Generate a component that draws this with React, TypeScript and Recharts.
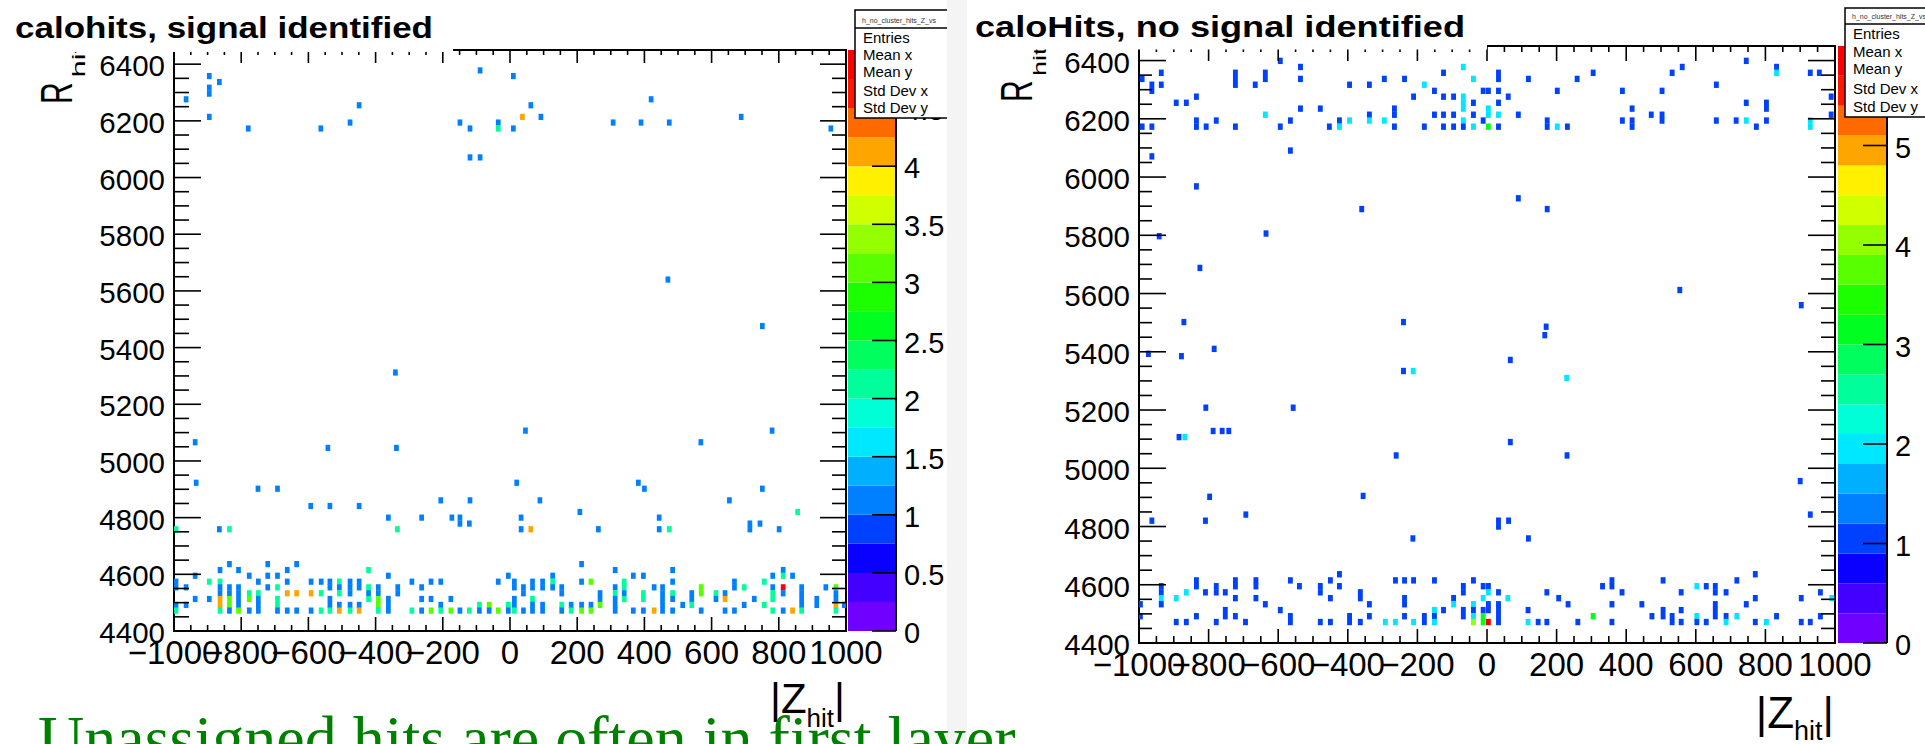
import React from 'react'
import { ScatterChart, Scatter, XAxis, YAxis, ReferenceArea, BarChart, Bar } from 'recharts'

// [ Z, R, entries ] for each filled bin
type Hit = [number, number, number]

const zMajor = [-1000, -800, -600, -400, -200, 0, 200, 400, 600, 800, 1000]
const rMajor = [4400, 4600, 4800, 5000, 5200, 5400, 5600, 5800, 6000, 6200, 6400]
const leftScaleTicks = [0, 0.5, 1, 1.5, 2, 2.5, 3, 3.5, 4, 4.5, 5]
const rightScaleTicks = [0, 1, 2, 3, 4, 5, 6]
const leftContours = [0, 0.25, 0.5, 0.75, 1, 1.25, 1.5, 1.75, 2, 2.25, 2.5, 2.75, 3, 3.25, 3.5, 3.75, 4, 4.25, 4.5, 4.75, 5]
const rightContours = [0, 0.3, 0.6, 0.9, 1.2, 1.5, 1.8, 2.1, 2.4, 2.7, 3, 3.3, 3.6, 3.9, 4.2, 4.5, 4.8, 5.1, 5.4, 5.7, 6]

// signal identified: first layers
const leftBand: Hit[] = [
  [-994, 4574, 1], [-994, 4554, 1], [-994, 4492, 1], [-994, 4472, 2],
  [-964, 4554, 1], [-964, 4492, 1], [-937, 4595, 1], [-937, 4513, 1],
  [-895, 4574, 2], [-895, 4513, 1],
  [-863, 4615, 1], [-863, 4574, 2], [-863, 4554, 1], [-863, 4533, 1], [-863, 4513, 4], [-863, 4492, 4], [-863, 4472, 2],
  [-835, 4636, 1], [-835, 4554, 1], [-835, 4533, 1], [-835, 4513, 3], [-835, 4492, 3], [-835, 4472, 1],
  [-808, 4615, 1], [-808, 4554, 1], [-808, 4533, 1], [-808, 4513, 1], [-808, 4492, 1], [-808, 4472, 3],
  [-776, 4595, 1], [-776, 4533, 2], [-776, 4513, 3], [-776, 4472, 1],
  [-749, 4574, 1], [-749, 4533, 2], [-749, 4513, 1], [-749, 4492, 1], [-749, 4472, 1],
  [-721, 4636, 1], [-721, 4595, 1], [-721, 4554, 1],
  [-692, 4595, 1], [-692, 4554, 2], [-692, 4513, 2], [-692, 4492, 2], [-692, 4472, 1],
  [-663, 4615, 1], [-663, 4574, 1], [-663, 4533, 4], [-663, 4472, 1],
  [-635, 4636, 1], [-635, 4533, 4], [-635, 4472, 1],
  [-592, 4574, 1], [-592, 4533, 4], [-592, 4472, 1],
  [-562, 4574, 1], [-562, 4533, 2], [-562, 4472, 2],
  [-536, 4574, 1], [-536, 4554, 1], [-536, 4513, 1], [-536, 4492, 1], [-536, 4472, 2],
  [-508, 4574, 2], [-508, 4554, 1], [-508, 4533, 2], [-508, 4492, 1], [-508, 4472, 4],
  [-476, 4574, 1], [-476, 4554, 1], [-476, 4533, 1], [-476, 4492, 1], [-476, 4472, 2],
  [-449, 4574, 1], [-449, 4554, 1], [-449, 4492, 1], [-449, 4472, 4],
  [-421, 4615, 2], [-421, 4554, 2], [-421, 4533, 1], [-421, 4513, 2],
  [-392, 4554, 1], [-392, 4533, 1], [-392, 4513, 3], [-392, 4492, 3], [-392, 4472, 2],
  [-362, 4595, 1], [-362, 4513, 1], [-362, 4492, 1], [-362, 4472, 1],
  [-334, 4554, 1], [-334, 4533, 1], [-292, 4574, 1], [-292, 4472, 2],
  [-263, 4554, 1], [-263, 4513, 1], [-263, 4472, 1],
  [-235, 4574, 1], [-235, 4513, 1], [-235, 4472, 3],
  [-206, 4574, 1], [-206, 4492, 1], [-206, 4472, 2],
  [-176, 4513, 1], [-176, 4472, 3], [-149, 4472, 1], [-121, 4472, 2],
  [-91, 4492, 2], [-91, 4472, 1], [-62, 4492, 3], [-62, 4472, 1],
  [-35, 4574, 1], [-35, 4472, 3], [-5, 4595, 1], [-5, 4492, 2], [-5, 4472, 1],
  [13, 4574, 1], [13, 4554, 1], [13, 4513, 1], [13, 4492, 1], [13, 4472, 2],
  [40, 4554, 1], [40, 4533, 1], [40, 4472, 1],
  [67, 4574, 1], [67, 4554, 1], [67, 4513, 2], [67, 4492, 1], [67, 4472, 1],
  [97, 4574, 1], [97, 4554, 1], [97, 4492, 1], [97, 4472, 1],
  [127, 4595, 1], [127, 4574, 2], [127, 4554, 1],
  [154, 4554, 1], [154, 4533, 1], [154, 4492, 2], [154, 4472, 1],
  [182, 4492, 1], [182, 4472, 2],
  [213, 4636, 1], [213, 4574, 1], [213, 4492, 1], [213, 4472, 3],
  [241, 4574, 3], [241, 4492, 1], [241, 4472, 3],
  [268, 4533, 1], [268, 4513, 1], [268, 4492, 3],
  [313, 4615, 1], [313, 4554, 1], [313, 4533, 2], [313, 4513, 1], [313, 4492, 1], [313, 4472, 1],
  [340, 4574, 2], [340, 4554, 2], [340, 4533, 1], [340, 4513, 2],
  [367, 4595, 1], [367, 4472, 1],
  [397, 4595, 1], [397, 4533, 2], [397, 4513, 2], [397, 4472, 1],
  [429, 4554, 1], [429, 4472, 4],
  [454, 4554, 1], [454, 4533, 1], [454, 4513, 1], [454, 4492, 1], [454, 4472, 1],
  [484, 4615, 1], [484, 4574, 1], [484, 4533, 2], [484, 4513, 1], [484, 4472, 1],
  [514, 4492, 1], [541, 4533, 1], [541, 4513, 1], [541, 4492, 2],
  [569, 4554, 3], [569, 4533, 3], [569, 4472, 1],
  [613, 4533, 2], [613, 4513, 1], [640, 4533, 1], [640, 4513, 4], [640, 4472, 1],
  [668, 4574, 1], [668, 4554, 1], [668, 4472, 1], [697, 4554, 2], [697, 4492, 1],
  [727, 4513, 1], [757, 4574, 2], [757, 4492, 2],
  [782, 4595, 1], [782, 4554, 1], [782, 4533, 2], [782, 4513, 2], [782, 4472, 2],
  [813, 4615, 1], [813, 4595, 2], [813, 4554, 5], [813, 4533, 1], [813, 4472, 1],
  [841, 4595, 1], [841, 4472, 4],
  [868, 4554, 1], [868, 4533, 1], [868, 4513, 1], [868, 4492, 1], [868, 4472, 2],
  [913, 4513, 1], [913, 4492, 1], [940, 4554, 1],
  [970, 4554, 3], [970, 4533, 1], [970, 4513, 1], [970, 4492, 4], [970, 4472, 2],
  [995, 4492, 1],
]

const leftMiddle: Hit[] = [
  [-994, 4759, 2], [-865, 4759, 1], [-835, 4759, 2], [-593, 4841, 1], [-536, 4841, 1], [-449, 4841, 1],
  [-362, 4800, 1], [-335, 4759, 2], [-263, 4800, 1], [-206, 4861, 1], [-173, 4800, 1], [-149, 4800, 1],
  [-149, 4779, 1], [-121, 4779, 1], [-119, 4861, 1], [33, 4800, 1], [33, 4759, 1], [62, 4759, 4],
  [89, 4861, 1], [208, 4820, 1], [263, 4759, 1], [444, 4800, 1], [444, 4759, 1], [474, 4759, 2],
  [653, 4861, 1], [714, 4779, 1], [714, 4759, 1], [744, 4779, 1], [801, 4759, 1], [856, 4820, 2],
  [470, 5640, 1], [751, 5476, 1], [-341, 5312, 1], [-937, 5066, 1], [-542, 5046, 1], [-338, 5046, 1],
  [46, 5107, 1], [568, 5066, 1], [780, 5107, 1], [-934, 4923, 1], [-750, 4902, 1], [-692, 4902, 1],
  [20, 4923, 1], [382, 4923, 1], [400, 4902, 1], [751, 4902, 1],
]

const leftTop: Hit[] = [
  [-964, 6276, 1], [-895, 6358, 1], [-895, 6317, 1], [-895, 6296, 1], [-865, 6337, 1], [-895, 6214, 1],
  [-779, 6173, 1], [-563, 6173, 1], [-476, 6194, 1], [-449, 6255, 1], [-149, 6194, 1], [-119, 6173, 1],
  [-119, 6071, 1], [-89, 6071, 1], [-89, 6378, 1], [-35, 6194, 1], [-35, 6173, 2], [10, 6358, 1],
  [62, 6255, 1], [37, 6214, 4], [92, 6214, 1], [10, 6173, 1], [307, 6194, 1], [390, 6194, 1],
  [474, 6194, 1], [420, 6276, 1], [688, 6214, 1], [955, 6173, 1],
]

// no signal identified
const rightBand: Hit[] = [
  [-996, 4533, 1], [-996, 4492, 1],
  [-936, 4595, 1], [-936, 4574, 1], [-936, 4554, 2], [-936, 4533, 1],
  [-893, 4554, 2], [-893, 4472, 1], [-864, 4574, 2], [-864, 4472, 1],
  [-835, 4615, 1], [-835, 4595, 1], [-835, 4492, 1], [-809, 4574, 1],
  [-778, 4595, 1], [-778, 4574, 1], [-778, 4472, 1],
  [-752, 4574, 1], [-752, 4513, 1], [-752, 4492, 1],
  [-723, 4615, 1], [-723, 4595, 1], [-723, 4554, 1], [-723, 4492, 1],
  [-694, 4472, 1], [-664, 4615, 1], [-664, 4595, 1], [-664, 4554, 1],
  [-637, 4533, 1], [-594, 4513, 1], [-565, 4615, 1], [-565, 4492, 1], [-565, 4472, 1],
  [-539, 4595, 1], [-479, 4595, 1], [-479, 4574, 1], [-479, 4472, 1],
  [-450, 4615, 1], [-450, 4554, 1], [-450, 4472, 1], [-424, 4636, 1], [-424, 4595, 1],
  [-395, 4492, 1], [-395, 4472, 1], [-364, 4574, 1], [-364, 4554, 1], [-364, 4472, 1],
  [-338, 4533, 1], [-338, 4492, 1], [-292, 4472, 2], [-263, 4615, 1], [-263, 4472, 2],
  [-237, 4615, 1], [-237, 4554, 1], [-237, 4533, 1], [-237, 4492, 1],
  [-211, 4615, 1], [-211, 4472, 2], [-180, 4492, 1], [-180, 4472, 1],
  [-151, 4615, 1], [-151, 4513, 2], [-151, 4492, 1], [-151, 4472, 2],
  [-125, 4513, 1], [-96, 4554, 1], [-96, 4533, 2],
  [-68, 4595, 1], [-68, 4574, 1], [-68, 4513, 1], [-68, 4492, 1],
  [-39, 4615, 1], [-39, 4533, 2], [-39, 4513, 1], [-39, 4492, 2], [-39, 4472, 4],
  [-11, 4595, 1], [-11, 4554, 2], [-11, 4513, 1], [-11, 4492, 3], [-11, 4472, 3],
  [4, 4595, 1], [4, 4574, 2], [4, 4533, 1], [4, 4513, 1], [4, 4472, 6],
  [33, 4574, 1], [33, 4533, 1], [33, 4513, 1], [33, 4492, 1], [33, 4472, 1],
  [60, 4554, 2], [118, 4513, 1], [118, 4472, 2], [147, 4472, 1], [172, 4574, 1], [172, 4472, 1],
  [206, 4554, 1], [233, 4533, 1], [261, 4472, 1], [305, 4492, 3], [332, 4595, 1],
  [359, 4615, 1], [359, 4595, 1], [359, 4533, 1], [359, 4472, 1], [388, 4574, 1],
  [445, 4533, 1], [474, 4492, 1], [506, 4615, 1], [506, 4513, 1], [506, 4492, 1],
  [532, 4492, 1], [532, 4472, 1], [558, 4574, 1], [558, 4513, 1], [558, 4472, 1],
  [603, 4595, 2], [603, 4492, 2], [603, 4472, 1], [630, 4595, 1], [630, 4472, 1],
  [656, 4595, 1], [656, 4574, 1], [656, 4533, 1], [656, 4513, 1], [656, 4492, 1],
  [687, 4574, 1], [687, 4492, 1], [687, 4472, 2], [718, 4615, 1], [718, 4492, 2],
  [745, 4533, 1], [771, 4636, 1], [771, 4554, 1], [771, 4472, 1], [803, 4472, 2],
  [832, 4492, 1], [903, 4554, 1], [903, 4472, 1], [929, 4472, 1],
  [958, 4574, 1], [958, 4492, 1], [991, 4554, 2],
]

const rightMiddle: Hit[] = [
  [-963, 4820, 1], [-809, 4820, 1], [-693, 4841, 1], [-213, 4759, 1], [33, 4820, 1], [33, 4800, 1],
  [62, 4820, 1], [119, 4759, 1], [929, 4841, 1],
  [-942, 5797, 1], [-635, 5806, 1], [-825, 5688, 1], [554, 5612, 1], [-240, 5502, 1], [170, 5486, 1],
  [903, 5560, 1], [-871, 5502, 1], [-878, 5385, 1], [-973, 5393, 1], [-784, 5410, 1], [-240, 5334, 1],
  [-212, 5334, 2], [67, 5372, 1], [166, 5457, 1], [229, 5310, 2], [-557, 5208, 1], [-808, 5208, 1],
  [-885, 5107, 1], [-868, 5107, 2], [-787, 5128, 1], [-761, 5128, 1], [-742, 5128, 1], [67, 5090, 1],
  [-261, 5044, 1], [230, 5044, 1], [-797, 4902, 1], [-356, 4905, 1], [900, 4956, 1],
  [-360, 5890, 1], [173, 5890, 1],
]

const rightTop: Hit[] = [
  [-991, 6337, 1], [-991, 6173, 1], [-963, 6317, 1], [-963, 6296, 1], [-963, 6173, 1], [-963, 6071, 1],
  [-936, 6358, 1], [-936, 6317, 1], [-893, 6255, 1], [-864, 6255, 1],
  [-835, 6276, 1], [-835, 6194, 1], [-835, 6173, 1], [-835, 5968, 1], [-807, 6173, 1], [-778, 6194, 1],
  [-723, 6358, 1], [-723, 6337, 1], [-723, 6317, 1], [-723, 6173, 1], [-666, 6317, 1],
  [-637, 6358, 1], [-637, 6337, 1], [-637, 6214, 2], [-594, 6399, 1], [-594, 6173, 1],
  [-565, 6194, 1], [-565, 6091, 1], [-536, 6378, 1], [-536, 6337, 1], [-536, 6235, 1],
  [-479, 6235, 1], [-453, 6173, 1], [-424, 6194, 1], [-424, 6173, 2], [-395, 6317, 1], [-395, 6194, 2],
  [-338, 6317, 1], [-338, 6214, 1], [-338, 6194, 2], [-295, 6337, 1], [-295, 6194, 2],
  [-266, 6235, 1], [-266, 6214, 1], [-266, 6173, 1], [-237, 6337, 1], [-211, 6276, 1],
  [-180, 6317, 2], [-180, 6173, 1], [-151, 6296, 1], [-151, 6214, 1],
  [-125, 6358, 1], [-125, 6276, 1], [-125, 6214, 1], [-125, 6173, 1],
  [-96, 6276, 1], [-96, 6214, 1], [-96, 6173, 1],
  [-68, 6378, 2], [-68, 6276, 2], [-68, 6255, 2], [-68, 6235, 2], [-68, 6194, 2], [-68, 6173, 1],
  [-39, 6337, 2], [-39, 6255, 1], [-39, 6214, 1], [-39, 6173, 2], [-11, 6296, 1], [-11, 6194, 1],
  [4, 6296, 1], [4, 6235, 2], [4, 6214, 2], [4, 6173, 3],
  [33, 6358, 1], [33, 6337, 1], [33, 6296, 1], [33, 6255, 1], [33, 6214, 2], [33, 6173, 1],
  [61, 6276, 1], [90, 6214, 1], [90, 5927, 1], [119, 6337, 1], [173, 6194, 1], [173, 6173, 1],
  [202, 6296, 1], [202, 6173, 2], [231, 6173, 1], [259, 6337, 1], [305, 6358, 1],
  [389, 6296, 1], [389, 6194, 1], [417, 6235, 1], [417, 6194, 1], [417, 6173, 1], [472, 6214, 1],
  [503, 6296, 1], [503, 6214, 1], [503, 6194, 1], [532, 6358, 1], [561, 6378, 1],
  [659, 6317, 1], [659, 6194, 1], [716, 6194, 1], [745, 6399, 1], [745, 6255, 1], [745, 6194, 2],
  [774, 6173, 1], [803, 6255, 1], [803, 6235, 1], [803, 6194, 1], [832, 6378, 1], [832, 6358, 2],
  [929, 6358, 1], [929, 6194, 2], [929, 6173, 2], [955, 6358, 1], [989, 6276, 1], [989, 6214, 1],
]

// ROOT rainbow palette, 20 contour levels
const palette = [
  '#7000ff', '#4300ff', '#0a00ff', '#0040ff', '#0080ff', '#00b0ff', '#00e8ff', '#00ffd7', '#00ff9a', '#00ff5e',
  '#00ff21', '#1bff00', '#57ff00', '#94ff00', '#d0ff00', '#fff000', '#ffa500', '#ff6a00', '#ff1800', '#ff0000',
]

const FONT = 'Liberation Sans, Arial, Helvetica, sans-serif'
const BIN_Z = 14
const BIN_R = 20.5
const R_MIN = 4400
const R_MAX = 6450

const zTicks = Array.from({ length: 41 }, (_, i) => -1000 + 50 * i)
const rTicks = Array.from({ length: 41 }, (_, i) => 4400 + 50 * i)

const fmt = (v: number) => (v < 0 ? '\u2212' + Math.abs(v) : String(v))

function levelColor(n: number, contours: number[]) {
  let lvl = 0
  for (let i = 0; i < contours.length; i++) if (contours[i] <= n + 1e-9) lvl = i
  return palette[Math.min(lvl, palette.length - 1)]
}

type Cfg = {
  left: number
  width: number
  plotLeft: number
  plotRight: number
  plotTop: number
  plotBottom: number
  contours: number[]
  ticksL: [number, number]
  ticksR: [number, number]
  ticksB: [number, number]
  ticksT: [number, number]
}

function HitPanel({ cfg, hits }: { cfg: Cfg; hits: Hit[] }) {
  const data = hits.map(([z, r, n]) => ({ z, r, n }))
  const pw = cfg.plotRight - cfg.plotLeft
  const ph = cfg.plotBottom - cfg.plotTop
  const bw = (BIN_Z * pw) / 2000
  const bh = (BIN_R * ph) / (R_MAX - R_MIN) + 0.4

  const shape = (p: any) => {
    if (p.cx == null || p.cy == null) return <g />
    return <rect x={p.cx - bw / 2} y={p.cy - bh / 2} width={bw} height={bh} fill={levelColor(p.payload.n, cfg.contours)} />
  }

  const xTick = (p: any) => {
    const v = p.payload.value
    const major = zMajor.includes(v)
    return (
      <g>
        <line x1={p.x} x2={p.x} y1={cfg.plotBottom} y2={cfg.plotBottom - (major ? cfg.ticksB[0] : cfg.ticksB[1])} stroke="#000" strokeWidth={1.6} />
        <line x1={p.x} x2={p.x} y1={cfg.plotTop} y2={cfg.plotTop + (major ? cfg.ticksT[0] : cfg.ticksT[1])} stroke="#000" strokeWidth={1.6} />
        {major && (
          <text x={p.x} y={cfg.plotBottom + 33} textAnchor="middle" fontSize={33} fontFamily={FONT} fill="#000">
            {fmt(v)}
          </text>
        )}
      </g>
    )
  }

  const yTick = (p: any) => {
    const v = p.payload.value
    const major = rMajor.includes(v)
    return (
      <g>
        <line x1={cfg.plotLeft} x2={cfg.plotLeft + (major ? cfg.ticksL[0] : cfg.ticksL[1])} y1={p.y} y2={p.y} stroke="#000" strokeWidth={1.6} />
        <line x1={cfg.plotRight} x2={cfg.plotRight - (major ? cfg.ticksR[0] : cfg.ticksR[1])} y1={p.y} y2={p.y} stroke="#000" strokeWidth={1.6} />
        {major && (
          <text x={cfg.plotLeft - 9} y={p.y + 12} textAnchor="end" fontSize={29.5} fontFamily={FONT} fill="#000">
            {v}
          </text>
        )}
      </g>
    )
  }

  return (
    <div style={{ position: 'absolute', left: cfg.left, top: 0, width: cfg.width, height: 744 }}>
      <ScatterChart
        width={cfg.width}
        height={744}
        margin={{ top: cfg.plotTop, right: cfg.width - cfg.plotRight, bottom: 0, left: 0 }}
      >
        <XAxis
          type="number"
          dataKey="z"
          domain={[-1000, 1000]}
          ticks={zTicks}
          interval={0}
          height={744 - cfg.plotBottom}
          tickSize={0}
          tickMargin={0}
          tickLine={false}
          axisLine={false}
          tick={xTick}
          allowDataOverflow
        />
        <YAxis
          type="number"
          dataKey="r"
          domain={[R_MIN, R_MAX]}
          ticks={rTicks}
          interval={0}
          width={cfg.plotLeft}
          tickSize={0}
          tickMargin={0}
          tickLine={false}
          axisLine={false}
          tick={yTick}
          allowDataOverflow
        />
        <Scatter data={data} shape={shape} isAnimationActive={false} />
        <ReferenceArea x1={-1000} x2={1000} y1={R_MIN} y2={R_MAX} fill="none" stroke="#000" strokeWidth={2} ifOverflow="visible" />
      </ScatterChart>
    </div>
  )
}

function ColorScale({ left, barW, axisW, top, bottom, contours, ticks }: {
  left: number; barW: number; axisW: number; top: number; bottom: number; contours: number[]; ticks: number[]
}) {
  const row: Record<string, number | string> = { name: 'z' }
  contours.slice(1).forEach((c, i) => {
    row['l' + i] = c - contours[i]
  })
  const tick = (p: any) => (
    <g>
      <line x1={barW - 24} x2={barW} y1={p.y} y2={p.y} stroke="#000" strokeWidth={1.6} />
      <text x={barW + 8} y={p.y + 12} fontSize={29} fontFamily={FONT} fill="#000">
        {p.payload.value}
      </text>
    </g>
  )
  const w = barW + axisW
  return (
    <div style={{ position: 'absolute', left, top: 0, width: w, height: 744 }}>
      <BarChart
        width={w}
        height={744}
        data={[row]}
        margin={{ top, right: 0, bottom: 744 - bottom, left: 0 }}
        barCategoryGap={0}
        barGap={0}
      >
        <XAxis dataKey="name" hide />
        <YAxis
          orientation="right"
          type="number"
          domain={[0, contours[contours.length - 1]]}
          ticks={ticks}
          interval={0}
          width={axisW}
          tickSize={0}
          tickMargin={0}
          tickLine={false}
          axisLine={false}
          tick={tick}
          allowDataOverflow
        />
        {contours.slice(1).map((_, i) => (
          <Bar key={i} dataKey={'l' + i} stackId="c" fill={palette[i]} isAnimationActive={false} />
        ))}
      </BarChart>
      <svg width={barW + 2} height={744} style={{ position: 'absolute', left: 0, top: 0 }}>
        <line x1={barW} x2={barW} y1={top} y2={bottom} stroke="#000" strokeWidth={2} />
      </svg>
    </div>
  )
}

const statLabels = ['Entries', 'Mean x', 'Mean y', 'Std Dev x', 'Std Dev y']

function StatBox({ x, y, head, h, rows }: { x: number; y: number; head: number; h: number; rows: number[] }) {
  return (
    <g>
      <rect x={x} y={y} width={110} height={h} fill="#fff" stroke="#000" strokeWidth={1.5} />
      <line x1={x} x2={x + 110} y1={y + head} y2={y + head} stroke="#000" strokeWidth={1.5} />
      <text x={x + 7} y={y + head - 5} fontSize={7} fontFamily={FONT} fill="#333">
        h_no_cluster_hits_Z_vs
      </text>
      {statLabels.map((s, i) => (
        <text key={s} x={x + 8} y={rows[i]} fontSize={15} fontFamily={FONT} fill="#000">
          {s}
        </text>
      ))}
    </g>
  )
}

const leftCfg: Cfg = {
  left: 0, width: 960, plotLeft: 174, plotRight: 846, plotTop: 50, plotBottom: 631,
  contours: leftContours, ticksL: [27, 15], ticksR: [26, 14], ticksB: [14, 6], ticksT: [13, 5],
}
const rightCfg: Cfg = {
  left: 960, width: 965, plotLeft: 179, plotRight: 875, plotTop: 46, plotBottom: 643,
  contours: rightContours, ticksL: [27, 13], ticksR: [27, 14], ticksB: [14, 7], ticksT: [15, 6],
}

export default function App() {
  return (
    <div style={{ position: 'absolute', left: 0, top: 0, width: 1925, height: 744, overflow: 'hidden', background: '#fff' }}>
      <HitPanel cfg={leftCfg} hits={[...leftBand, ...leftMiddle, ...leftTop]} />
      <HitPanel cfg={rightCfg} hits={[...rightBand, ...rightMiddle, ...rightTop]} />
      <ColorScale left={848} barW={48} axisW={60} top={50} bottom={631} contours={leftContours} ticks={leftScaleTicks} />
      <ColorScale left={1838} barW={49} axisW={38} top={46} bottom={643} contours={rightContours} ticks={rightScaleTicks} />
      <svg width={1925} height={744} style={{ position: 'absolute', left: 0, top: 0, pointerEvents: 'none' }}>
        {/* axis titles */}
        <text transform="translate(72 104) scale(1.45 1) rotate(-90)" fontSize={30} fontFamily={FONT} fill="#000">R</text>
        <text transform="translate(85 77.5) scale(0.6 1) rotate(-90)" fontSize={31} fontFamily={FONT} fill="#000">hit</text>
        <text transform="translate(1032 102) scale(1.45 1) rotate(-90)" fontSize={30} fontFamily={FONT} fill="#000">R</text>
        <text transform="translate(1046 76) scale(0.65 1) rotate(-90)" fontSize={27} fontFamily={FONT} fill="#000">hit</text>
        <text x={845} y={713} textAnchor="end" fontSize={42} fontFamily={FONT} fill="#000">
          |Z<tspan dy={14} fontSize={26}>hit</tspan>
          <tspan dy={-14}>|</tspan>
        </text>
        <text x={1834} y={728} textAnchor="end" fontSize={44} fontFamily={FONT} fill="#000">
          |Z<tspan dy={12} fontSize={27}>hit</tspan>
          <tspan dy={-12}>|</tspan>
        </text>

        {/* titles */}
        <rect x={0} y={0} width={453} height={52} fill="#fff" />
        <text x={15} y={38} fontSize={30} fontWeight="bold" fontFamily={FONT} textLength={418} lengthAdjust="spacingAndGlyphs">
          calohits, signal identified
        </text>
        <rect x={967} y={0} width={520} height={49.5} fill="#fff" />
        <text x={975} y={37} fontSize={30} fontWeight="bold" fontFamily={FONT} textLength={490} lengthAdjust="spacingAndGlyphs">
          caloHits, no signal identified
        </text>

        {/* stat boxes */}
        <StatBox x={855} y={10} head={18} h={108} rows={[43, 60, 77, 96, 113]} />
        <StatBox x={1845} y={8} head={16} h={109} rows={[39, 57, 74, 94, 112]} />

        <rect x={947} y={0} width={20} height={744} fill="#f4f4f4" />

        <text x={38} y={760} fontSize={64} fontFamily="Liberation Serif, Times New Roman, serif" fill="#008000">
          Unassigned hits are often in first layer
        </text>
      </svg>
    </div>
  )
}
